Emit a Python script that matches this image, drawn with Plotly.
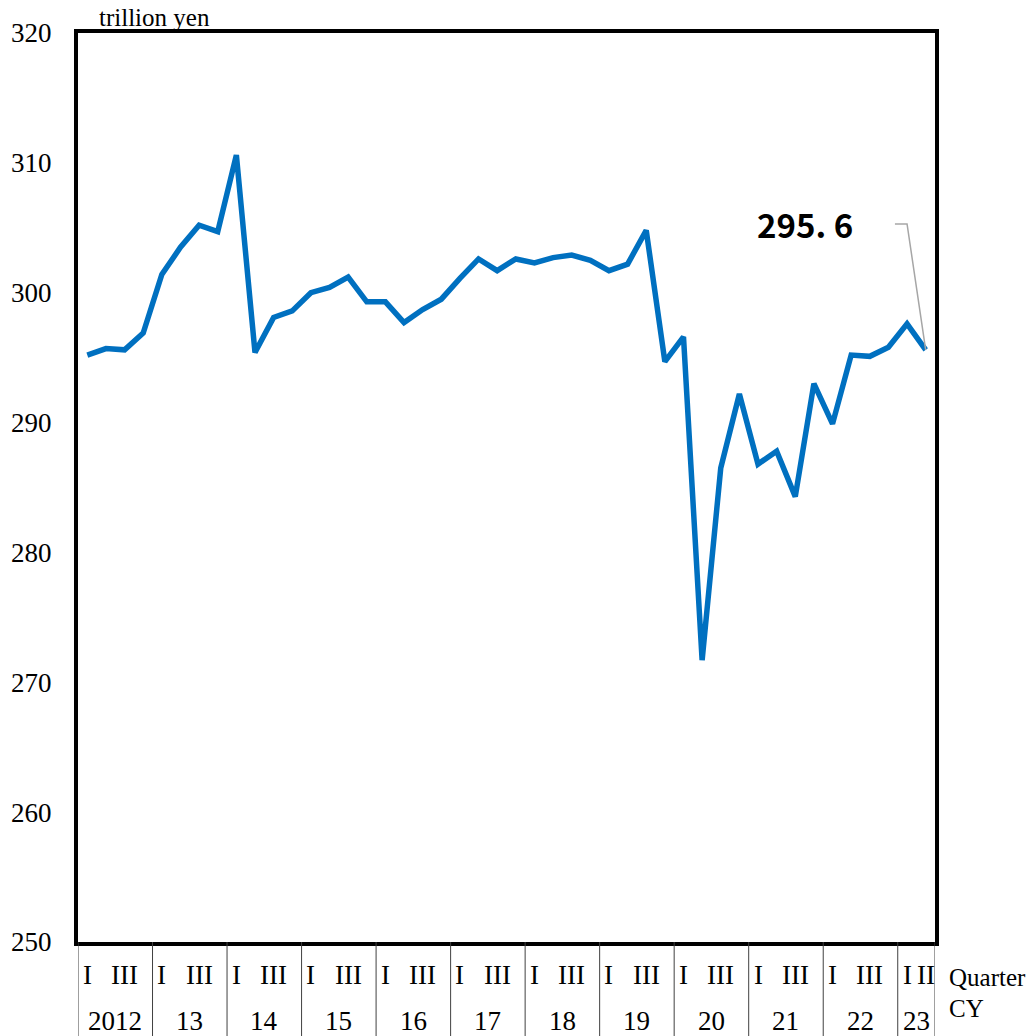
import plotly.graph_objects as go

# quarterly values, 2012 Q1 .. 2023 Q2 (trillion yen)
values = [
    295.2, 295.7, 295.6, 296.9,   # 2012
    301.4, 303.5, 305.2, 304.7,   # 2013
    310.6, 295.4, 298.1, 298.6,   # 2014
    300.0, 300.4, 301.2, 299.3,   # 2015
    299.3, 297.7, 298.7, 299.5,   # 2016
    301.1, 302.6, 301.7, 302.6,   # 2017
    302.3, 302.7, 302.9, 302.5,   # 2018
    301.7, 302.2, 304.8, 294.7,   # 2019
    296.6, 271.7, 286.5, 292.2,   # 2020
    286.8, 287.8, 284.3, 293.0,   # 2021
    289.9, 295.2, 295.1, 295.8,   # 2022
    297.6, 295.6,                 # 2023
]
quarter_labels = ["I", "", "III", ""] * 11 + ["I", "II"]
year_labels = ["2012", "13", "14", "15", "16", "17", "18", "19", "20", "21", "22", "23"]
y_ticks = [250, 260, 270, 280, 290, 300, 310, 320]
last_label = "295. 6"

serif = "Liberation Serif"
fs = 27
n = len(values)
idx = list(range(n))

fig = go.Figure()
fig.add_trace(go.Scatter(
    x=idx, y=values, mode="lines",
    line=dict(color="#0070C0", width=5.5, shape="linear"),
    hoverinfo="x+y", showlegend=False,
))

# leader line from the label to the latest value
fig.add_trace(go.Scatter(
    x=[n - 1 - 1.65, n - 1 - 1.0, n - 1],
    y=[305.3, 305.3, values[-1]],
    mode="lines", line=dict(color="#A6A6A6", width=1.5),
    hoverinfo="skip", showlegend=False,
))

annotations = []
for i, q in enumerate(quarter_labels):
    if q:
        annotations.append(dict(
            x=i, y=0, xref="x", yref="paper", text=q, showarrow=False,
            yanchor="middle", yshift=-33, font=dict(family=serif, size=fs, color="black"),
        ))

shapes = []
for k, yr in enumerate(year_labels):
    start = k * 4
    end = min(start + 4, n)
    annotations.append(dict(
        x=(start + end - 1) / 2, y=0, xref="x", yref="paper", text=yr, showarrow=False,
        yanchor="middle", yshift=-79, font=dict(family=serif, size=fs, color="black"),
    ))
    shapes.append(dict(
        type="line", xref="x", yref="paper", x0=start - 0.5, x1=start - 0.5,
        y0=0, y1=-0.11, line=dict(color="#404040", width=1),
    ))
shapes.append(dict(
    type="line", xref="x", yref="paper", x0=n - 0.5, x1=n - 0.5,
    y0=0, y1=-0.11, line=dict(color="#404040", width=1),
))

annotations += [
    dict(x=1, y=0, xref="paper", yref="paper", text="Quarter", showarrow=False,
         xanchor="left", yanchor="middle", xshift=12, yshift=-35,
         font=dict(family=serif, size=25, color="black")),
    dict(x=1, y=0, xref="paper", yref="paper", text="CY", showarrow=False,
         xanchor="left", yanchor="middle", xshift=12, yshift=-66,
         font=dict(family=serif, size=25, color="black")),
    dict(x=0, y=1, xref="paper", yref="paper", text="trillion yen", showarrow=False,
         xanchor="left", yanchor="bottom", xshift=20, yshift=1, borderpad=0,
         font=dict(family=serif, size=25, color="black")),
    dict(x=38.5, y=305.3, xref="x", yref="y", text="<b>" + last_label + "</b>", showarrow=False,
         xanchor="center", yanchor="middle",
         font=dict(family="Noto Sans CJK JP", size=33, color="black")),
]

# the page body adds an 8px offset, so the figure is sized to fit the window
fig.update_layout(
    width=1026, height=1028,
    margin=dict(l=70, r=99, t=25, b=94, autoexpand=False),
    paper_bgcolor="white", plot_bgcolor="white",
    xaxis=dict(
        range=[-0.5, n - 0.5], showticklabels=False, showgrid=False, zeroline=False,
        showline=True, linecolor="black", linewidth=4, mirror=True, ticks="",
        automargin=False,
    ),
    yaxis=dict(
        range=[250, 320], tickvals=y_ticks, showgrid=False, zeroline=False,
        showline=True, linecolor="black", linewidth=4, mirror=True,
        ticks="outside", ticklen=17, tickcolor="rgba(0,0,0,0)",
        tickfont=dict(family=serif, size=fs, color="black"),
        automargin=False,
    ),
    annotations=annotations,
    shapes=shapes,
)

fig.write_html("out.html")
